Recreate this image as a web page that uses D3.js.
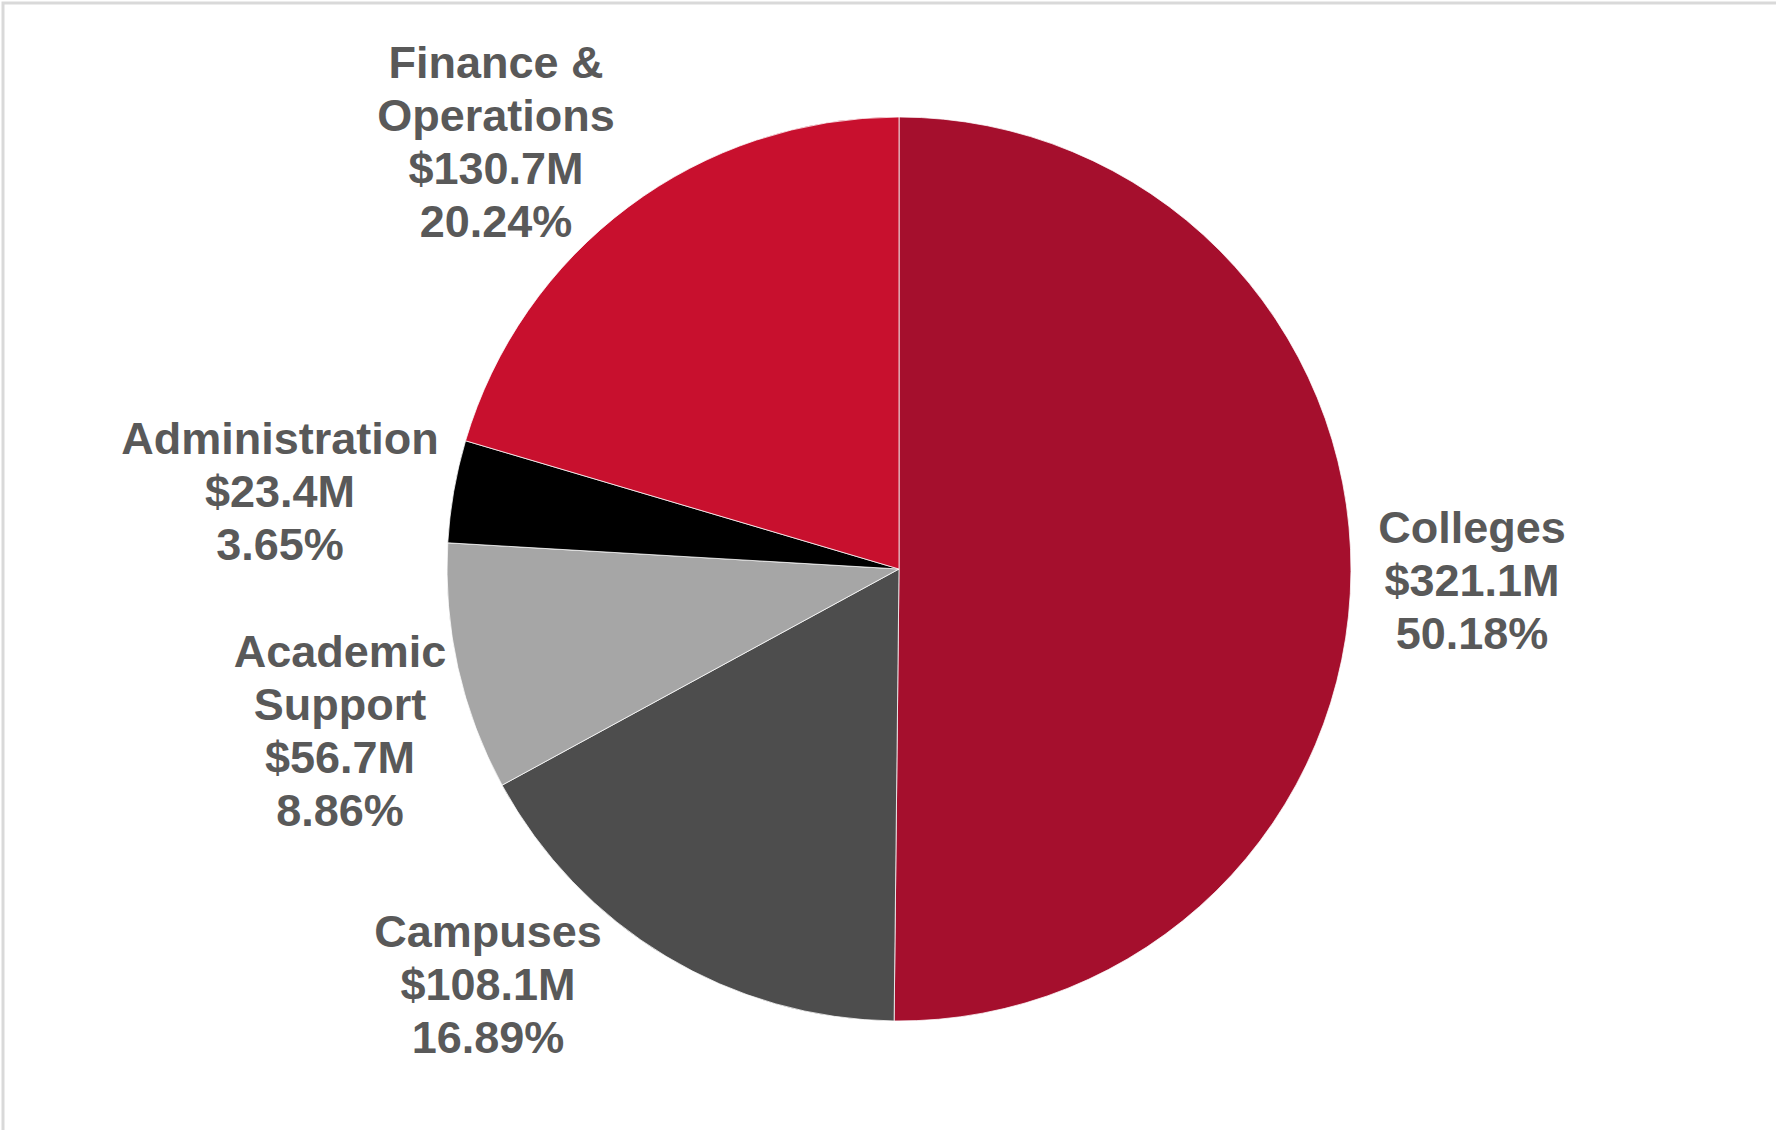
<!DOCTYPE html>
<html>
<head>
<meta charset="utf-8">
<script src="https://cdn.jsdelivr.net/npm/d3@7"></script>
<style>
  body { margin: 0; background: #fff; }
  .lbl { font-family: "Liberation Sans", Arial, sans-serif; font-weight: bold; font-size: 45px; fill: #595959; }
</style>
</head>
<body>
<div id="chartHolder"></div>
<script>
// slices, clockwise from 12 o'clock
const categories = ["Colleges", "Campuses", "Academic Support", "Administration", "Finance & Operations"];
const amounts = [321.1, 108.1, 56.7, 23.4, 130.7];        // $M
const percents = ["50.18%", "16.89%", "8.86%", "3.65%", "20.24%"];
const amountLabels = ["$321.1M", "$108.1M", "$56.7M", "$23.4M", "$130.7M"];

const w = 1776;
const h = 1130;
const cx = 899, cy = 569, radius = 452;

const colors = ["#a50f2d", "#4d4d4d", "#a6a6a6", "#000000", "#c8102e"];
// how names wrap on the chart
const nameLines = {
  "Academic Support": ["Academic", "Support"],
  "Finance & Operations": ["Finance &", "Operations"]
};
// centre of each label block, relative to pie centre (Excel "outside end" placement)
const labelAt = [[573, 10], [-411, 414], [-559, 160], [-619, -79], [-403, -429]];
const lineH = 53;

const svg = d3.select("#chartHolder")
  .append("svg")
  .attr("width", w)
  .attr("height", h);

// frame (only top/left edges show in the screenshot)
svg.append("rect")
  .attr("x", 3).attr("y", 3)
  .attr("width", w + 50).attr("height", h + 50)
  .attr("fill", "none")
  .attr("stroke", "#d9d9d9")
  .attr("stroke-width", 3);

const pie = d3.pie().sort(null).value((d) => d);
const arcs = pie(amounts);
const arc = d3.arc().innerRadius(0).outerRadius(radius);

const g = svg.append("g").attr("transform", "translate(" + cx + "," + cy + ")");

g.selectAll("path")
  .data(arcs)
  .enter()
  .append("path")
  .attr("d", arc)
  .attr("fill", (d, i) => colors[i])
  .attr("stroke", "#ffffff")
  .attr("stroke-width", 0.75);

const labels = g.selectAll("text.lbl")
  .data(arcs)
  .enter()
  .append("text")
  .attr("class", "lbl")
  .attr("text-anchor", "middle")
  .attr("transform", (d, i) => "translate(" + labelAt[i][0] + "," + labelAt[i][1] + ")");

labels.each(function(d, i) {
  const name = categories[i];
  const lines = (nameLines[name] || [name]).concat([amountLabels[i], percents[i]]);
  const first = -(lines.length - 1) * lineH / 2 + 17;
  d3.select(this).selectAll("tspan")
    .data(lines)
    .enter()
    .append("tspan")
    .attr("x", 0)
    .attr("y", (t, k) => first + k * lineH)
    .text((t) => t);
});
</script>
</body>
</html>
